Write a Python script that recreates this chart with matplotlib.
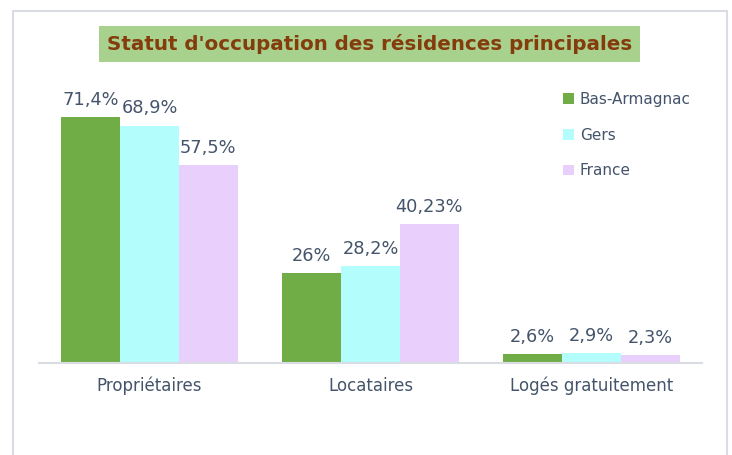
import matplotlib
matplotlib.use("Agg")
import matplotlib.pyplot as plt
from matplotlib.patches import Rectangle
import numpy as np

categories = ["Propriétaires", "Locataires", "Logés gratuitement"]
series_names = ["Bas-Armagnac", "Gers", "France"]
bas_armagnac = [71.4, 26.0, 2.6]
gers = [68.9, 28.2, 2.9]
france = [57.5, 40.23, 2.3]
labels_bas = ["71,4%", "26%", "2,6%"]
labels_gers = ["68,9%", "28,2%", "2,9%"]
labels_france = ["57,5%", "40,23%", "2,3%"]

colors = ["#70ad47", "#b3fdfd", "#e8cffc"]
text_color = "#44546a"

W, H = 732, 455
fig = plt.figure(figsize=(W / 100, H / 100), dpi=100)
fig.patch.set_facecolor("white")

# outer frame
frame = Rectangle((13 / W, -0.01), (727 - 13) / W, (H - 11) / H + 0.01,
                  transform=fig.transFigure, fill=False, edgecolor="#d9dde3",
                  linewidth=1.5)
fig.patches.append(frame)

ax_left, ax_right = 39 / W, 702 / W
ax_bottom, ax_top = (H - 363) / H, (H - 80) / H
ax = fig.add_axes([ax_left, ax_bottom, ax_right - ax_left, ax_top - ax_bottom])
ymax = (363 - 80) / 3.445
ax.set_ylim(0, ymax)
ax.set_xlim(-0.5, 2.5)

x = np.arange(len(categories))
bw = 0.8 / 3
all_series = [bas_armagnac, gers, france]
all_labels = [labels_bas, labels_gers, labels_france]
for i, (vals, labs) in enumerate(zip(all_series, all_labels)):
    pos = x + (i - 1) * bw
    ax.bar(pos, vals, width=bw, color=colors[i], label=series_names[i],
           linewidth=0)
    for p, v, l in zip(pos, vals, labs):
        ax.text(p, v + 2.4, l, ha="center", va="bottom", fontsize=12.8,
                color=text_color, family="DejaVu Sans")

for s in ["top", "right", "left"]:
    ax.spines[s].set_visible(False)
ax.spines["bottom"].set_color("#d9dde3")
ax.spines["bottom"].set_linewidth(1.5)
ax.set_yticks([])
ax.set_xticks(x)
ax.set_xticklabels(categories, fontsize=12, color=text_color)
ax.tick_params(axis="x", length=0, pad=10)

leg = ax.legend(loc="upper left", bbox_to_anchor=((557 - 39) / (702 - 39), (363 - 86) / 283),
                frameon=False, fontsize=11, handlelength=0.7, handleheight=0.7,
                handletextpad=0.4, labelspacing=1.35, borderaxespad=0)
for t in leg.get_texts():
    t.set_color(text_color)

# title with green box
fig.text((98 + 641) / 2 / W, (H - 44) / H, "Statut d'occupation des résidences principales",
         ha="center", va="center", fontsize=14.3, fontweight="bold", color="#843c0c",
         bbox=dict(boxstyle="square,pad=0.38", facecolor="#a9d18e", edgecolor="none"))

fig.savefig("out.png", dpi=100)
